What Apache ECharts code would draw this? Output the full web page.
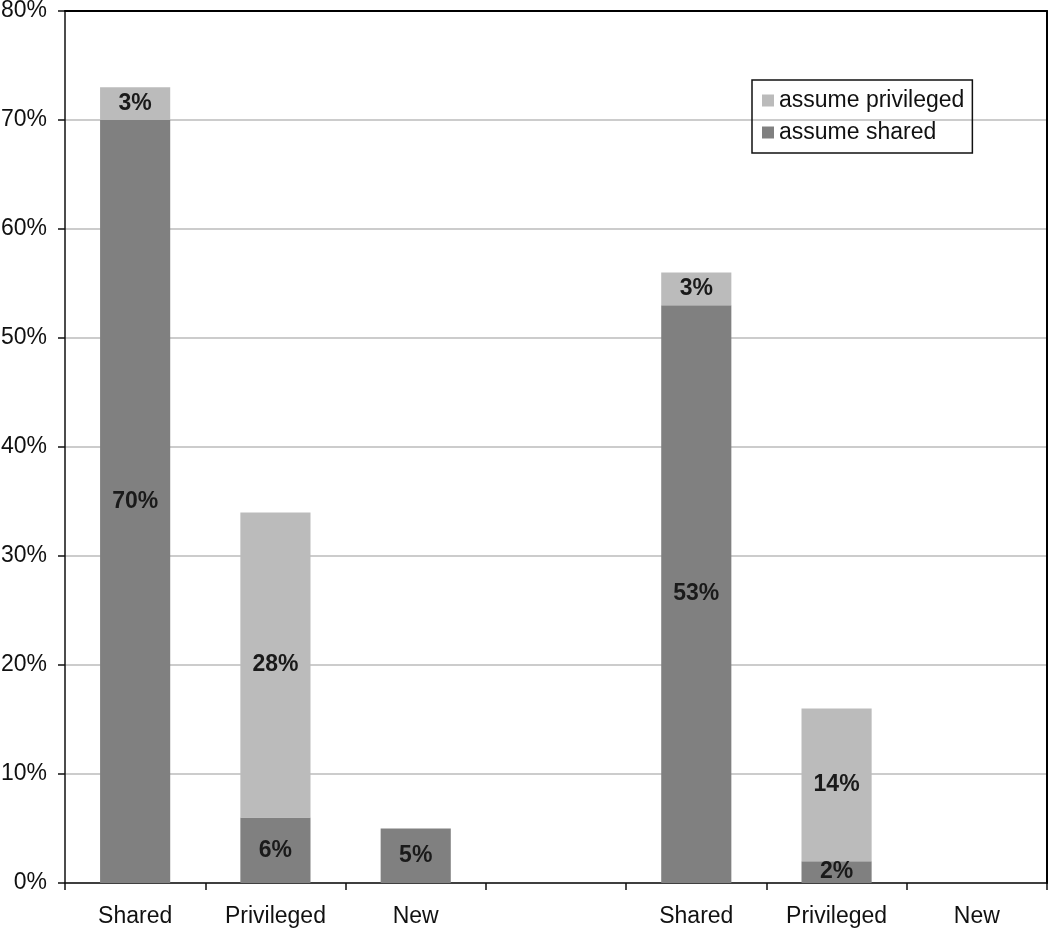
<!DOCTYPE html>
<html>
<head>
<meta charset="utf-8">
<script src="https://cdn.jsdelivr.net/npm/echarts@6/dist/echarts.min.js"></script>
<style>html,body{margin:0;padding:0;background:#fff}#c{width:1050px;height:930px}</style>
</head>
<body>
<div id="c"></div>
<script>
const categories = ['Shared', 'Privileged', 'New', '', 'Shared', 'Privileged', 'New'];
const assumeShared = [70, 6, 5, null, 53, 2, null];
const assumePrivileged = [3, 28, null, null, 3, 14, null];
const yTicks = { min: 0, max: 80, interval: 10 };

const chart = echarts.init(document.getElementById('c'), null, { renderer: 'canvas' });
const font = '"Liberation Sans", Arial, sans-serif';
const lbl = {
  show: true, position: 'inside', formatter: p => p.value + '%',
  fontFamily: font, fontSize: 23, fontWeight: 'bold', color: '#1a1a1a'
};
const frameLine = { show: true, onZero: false, lineStyle: { color: '#000', width: 2 } };
chart.setOption({
  animation: false,
  backgroundColor: '#fff',
  grid: { left: 65, right: 3, top: 11, bottom: 47, outerBoundsMode: 'none' },
  legend: {
    orient: 'vertical', left: 752, top: 80,
    data: ['assume privileged', 'assume shared'],
    itemWidth: 12, itemHeight: 12, itemGap: 9,
    borderColor: '#111', borderWidth: 1.5, padding: [9, 8, 9, 10],
    textStyle: { fontFamily: font, fontSize: 23, color: '#111' },
    icon: 'rect'
  },
  xAxis: [{
    type: 'category', data: categories,
    axisLine: { lineStyle: { color: '#111', width: 1.5 } },
    axisTick: { show: true, length: 7, interval: 0, lineStyle: { color: '#111', width: 1.5 } },
    axisLabel: { interval: 0, margin: 22, fontFamily: font, fontSize: 23, color: '#111' }
  }, {
    type: 'category', data: categories, position: 'top', z: 20,
    axisLine: frameLine, axisTick: { show: false }, axisLabel: { show: false }
  }],
  yAxis: [{
    type: 'value', min: yTicks.min, max: yTicks.max, interval: yTicks.interval,
    axisLine: { show: true, lineStyle: { color: '#111', width: 1.5 } },
    axisTick: { show: true, length: 7, lineStyle: { color: '#111', width: 1.5 } },
    axisLabel: { formatter: '{value}%', margin: 18, fontFamily: font, fontSize: 23, color: '#111' },
    splitLine: { lineStyle: { color: '#bbbbbb', width: 1.5 } }
  }, {
    type: 'value', min: yTicks.min, max: yTicks.max, interval: yTicks.interval, position: 'right', z: 20,
    axisLine: frameLine, axisTick: { show: false }, axisLabel: { show: false }, splitLine: { show: false }
  }],
  series: [
    { name: 'assume shared', type: 'bar', stack: 's', data: assumeShared, barWidth: '50%',
      itemStyle: { color: '#808080' }, label: lbl },
    { name: 'assume privileged', type: 'bar', stack: 's', data: assumePrivileged, barWidth: '50%',
      itemStyle: { color: '#bbbbbb' }, label: lbl }
  ]
});
</script>
</body>
</html>
